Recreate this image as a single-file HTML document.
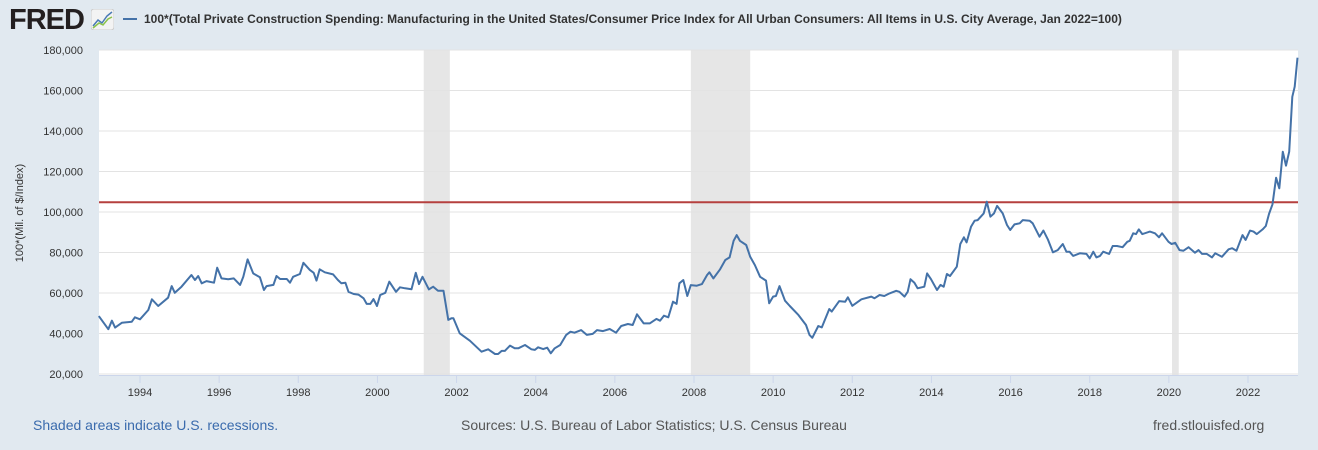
<!DOCTYPE html>
<html><head><meta charset="utf-8">
<style>
body{margin:0;width:1318px;height:450px;background:#e1e9f0;font-family:"Liberation Sans",sans-serif;overflow:hidden;position:relative}
.t{position:absolute;white-space:nowrap}
</style></head><body>
<div class="t" style="left:9px;top:4px;font-size:29px;font-weight:bold;color:#231f20;letter-spacing:-1px">FRED</div>
<svg class="t" style="left:91px;top:9px" width="23" height="21"><rect x="0" y="0" width="23" height="21" rx="3" fill="#f3f3f3" stroke="#ccc"/><polyline points="2,17 7,11 11,14 16,7 21,3" fill="none" stroke="#4a7ab5" stroke-width="1.5"/><polyline points="2,19 8,14 12,16 17,10 21,8" fill="none" stroke="#8bc34a" stroke-width="1.5"/></svg>
<div class="t" style="left:123px;top:18px;width:14px;height:2px;background:#4472a8"></div>
<div class="t" style="left:144px;top:12px;font-size:12px;font-weight:bold;color:#333">100*(Total Private Construction Spending: Manufacturing in the United States/Consumer Price Index for All Urban Consumers: All Items in U.S. City Average, Jan 2022=100)</div>
<div class="t" style="left:20px;top:213px;font-size:11px;color:#333;transform:translate(-50%,-50%) rotate(-90deg)">100*(Mil. of $/Index)</div>
<svg id="chart" class="t" style="left:0;top:0" width="1318" height="450"></svg>
<div class="t" style="left:33px;top:417px;font-size:14px;color:#3a6bad">Shaded areas indicate U.S. recessions.</div>
<div class="t" style="left:461px;top:417px;font-size:14px;color:#555">Sources: U.S. Bureau of Labor Statistics; U.S. Census Bureau</div>
<div class="t" style="left:1153px;top:417px;font-size:14px;color:#555">fred.stlouisfed.org</div>
<script>
const dates=[1992.96,1993.2,1993.29,1993.37,1993.54,1993.79,1993.87,1994.0,1994.21,1994.3,1994.46,1994.71,1994.8,1994.88,1995.05,1995.3,1995.39,1995.47,1995.56,1995.68,1995.87,1995.95,1996.06,1996.23,1996.37,1996.53,1996.61,1996.72,1996.86,1997.03,1997.13,1997.2,1997.37,1997.45,1997.54,1997.71,1997.79,1997.87,1998.04,1998.13,1998.29,1998.39,1998.46,1998.54,1998.67,1998.88,1999.0,1999.09,1999.19,1999.27,1999.4,1999.52,1999.65,1999.73,1999.82,1999.9,1999.99,2000.07,2000.2,2000.3,2000.47,2000.57,2000.7,2000.86,2000.97,2001.05,2001.14,2001.3,2001.41,2001.53,2001.67,2001.79,2001.87,2001.92,2002.08,2002.34,2002.63,2002.8,2002.97,2003.05,2003.14,2003.22,2003.35,2003.47,2003.56,2003.73,2003.89,2003.98,2004.06,2004.19,2004.29,2004.38,2004.48,2004.62,2004.77,2004.88,2004.98,2005.15,2005.29,2005.44,2005.55,2005.7,2005.87,2006.03,2006.16,2006.33,2006.45,2006.56,2006.73,2006.88,2007.05,2007.14,2007.24,2007.35,2007.47,2007.56,2007.63,2007.73,2007.83,2007.92,2008.07,2008.2,2008.33,2008.39,2008.49,2008.66,2008.79,2008.9,2009.0,2009.08,2009.16,2009.32,2009.42,2009.54,2009.67,2009.82,2009.9,2010.0,2010.07,2010.16,2010.3,2010.42,2010.64,2010.83,2010.92,2010.99,2011.14,2011.23,2011.42,2011.48,2011.67,2011.82,
2011.89,2012.00,2012.23,2012.48,2012.56,2012.69,2012.81,2012.94,2013.11,2013.19,2013.32,2013.40,2013.47,2013.57,2013.65,2013.82,2013.89,2013.99,2014.14,2014.23,2014.31,2014.39,2014.47,2014.64,2014.73,2014.82,2014.89,2015.00,2015.09,2015.17,2015.32,2015.40,2015.49,2015.58,2015.66,2015.80,2015.91,2015.99,2016.10,2016.23,2016.31,2016.48,2016.56,2016.73,2016.83,2016.94,2017.07,2017.19,2017.32,2017.41,2017.49,2017.58,2017.75,2017.92,2018.00,2018.09,2018.17,2018.26,2018.34,2018.49,2018.58,2018.69,2018.83,2018.95,2019.01,2019.10,2019.17,2019.24,2019.33,2019.52,2019.65,2019.75,2019.83,2019.99,2020.07,2020.16,2020.27,2020.37,2020.50,2020.66,2020.75,2020.84,2020.96,2021.09,2021.17,2021.34,2021.51,2021.60,2021.71,2021.86,2021.94,2022.05,2022.14,2022.22,2022.37,2022.45,2022.53,2022.62,2022.71,2022.79,2022.88,2022.96,2023.04,2023.12,2023.18,2023.25];
const values=[48.6,42.1,46.3,42.9,45.3,45.8,48,47,51.6,56.9,53.6,57.7,63.4,60.1,63.1,68.9,66.4,68.4,64.8,65.9,65.1,72.5,67.2,66.8,67.2,64,68,76.6,69.7,67.8,61.5,63.4,64,68.4,66.9,66.9,65.1,68,69.4,74.9,71.4,70,66.1,71.7,70.2,69.2,66.4,64.8,65.1,60.6,59.5,59.2,57.4,54.6,54.6,57,53.6,59,60.1,65.6,60.6,62.8,62.3,61.9,70,64.4,68,61.8,63.1,61.1,61.1,46.7,47.5,47.5,40.1,36.4,31,32.2,29.9,29.9,31.4,31.4,34,32.7,32.7,34.3,32.2,31.9,33.2,32.3,33,30.2,32.7,34.3,39.3,40.9,40.4,41.7,39.3,39.8,41.7,41.2,42.2,40.4,43.7,44.7,44.2,49.5,45,45,47.2,46.3,48.8,48,55.7,54.6,64.8,66.4,58.5,63.9,63.6,64.4,68.9,70.2,67.2,71.7,76.3,77.6,85.8,88.6,85.8,83.7,77.9,73.8,68,66.1,54.9,58.2,58.5,63.4,56.2,53.6,49.1,44.2,39.3,37.9,43.7,43,52.1,50.8,56,55.7,
57.9,53.7,56.9,58.2,57.4,59,58.5,59.8,61.1,60.6,58.2,60.6,66.8,65.1,62.3,63.1,69.7,66.8,61.5,64,63.1,69.4,68.4,73,84.2,87.5,85,92.7,95.7,96,99.3,105.1,97.7,99.3,103,99.3,93.6,91.1,93.9,94.4,96,95.7,94.4,87.8,90.8,86.5,80.1,81.2,84.2,80.4,80.4,78.3,79.6,79.3,77.1,80.4,77.6,78.3,80.4,79.3,83.2,83.2,82.6,85.3,85.8,89.5,89.1,91.4,89.1,90.3,89.5,87.5,89.5,85.3,84.2,84.8,81.2,80.9,82.6,79.9,81.2,79.3,79.3,77.6,79.6,77.9,81.6,82.1,80.9,88.6,86.2,90.8,90.3,89.1,91.4,93.1,99,103.8,116.9,111.7,129.8,122.9,129.8,156.9,161.9,176.2];
const yTicks=[20000,40000,60000,80000,100000,120000,140000,160000,180000];
const xTicks=[1994,1996,1998,2000,2002,2004,2006,2008,2010,2012,2014,2016,2018,2020,2022];
const recessionStarts=[2001.17,2007.92,2020.08];
const recessionEnds=[2001.83,2009.42,2020.25];
const refLine=104800;

const svg=document.getElementById('chart'),NS='http://www.w3.org/2000/svg';
const L=99,R=1298,T=50,B=375;
const x=t=>140+(t-1994)*(1248-140)/28;
const y=v=>374-(v-20000)*(324/160000);
function mk(tag,a){const e=document.createElementNS(NS,tag);for(const k in a)e.setAttribute(k,a[k]);svg.appendChild(e);return e;}
const bg=mk('rect',{x:L,y:T,width:R-L,height:B-T,fill:'#fff'});


recessionStarts.forEach((s,i)=>{const r=mk('rect',{x:x(s),y:T,width:x(recessionEnds[i])-x(s),height:B-T,fill:'#e6e6e6'});

});
yTicks.forEach(v=>{const g=mk('line',{x1:L,x2:R,y1:y(v),y2:y(v),stroke:'#e3e3e3','stroke-width':1});


const tx=mk('text',{x:83,y:y(v)+4,'text-anchor':'end','font-size':11,fill:'#333','font-family':'Liberation Sans,sans-serif'});tx.textContent=v.toLocaleString('en-US');

});
const ax=mk('line',{x1:L,x2:R,y1:B+0.5,y2:B+0.5,stroke:'#ccd6eb'});


xTicks.forEach(t=>{const tk=mk('line',{x1:x(t),x2:x(t),y1:B,y2:B+8,stroke:'#ccd6eb'});


const tx=mk('text',{x:x(t),y:396,'text-anchor':'middle','font-size':11,fill:'#333','font-family':'Liberation Sans,sans-serif'});tx.textContent=t;

});
const rl=mk('line',{x1:L,x2:R,y1:y(refLine),y2:y(refLine),stroke:'#b5403f','stroke-width':2});


const pts=dates.map((d,i)=>x(d).toFixed(1)+','+y(values[i]*1000).toFixed(1)).join(' ');
const ln=mk('polyline',{points:pts,fill:'none',stroke:'#4472a8','stroke-width':2,'stroke-linejoin':'round'});


</script>
</body></html>
